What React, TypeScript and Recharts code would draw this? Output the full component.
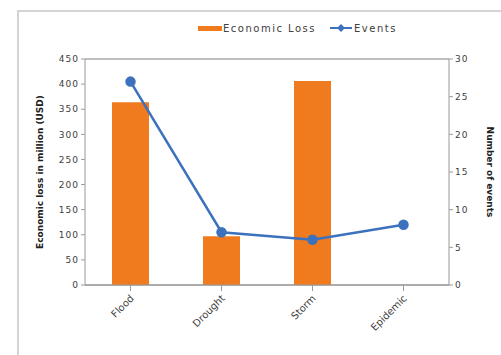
import { ComposedChart, Bar, Line, XAxis, YAxis, CartesianGrid, Legend } from 'recharts';

const categories = ['Flood', 'Drought', 'Storm', 'Epidemic'];
const economicLoss = [364, 97, 406, 0];
const events = [27, 7, 6, 8];
const lossTicks = [0, 50, 100, 150, 200, 250, 300, 350, 400, 450];
const eventTicks = [0, 5, 10, 15, 20, 25, 30];

const data = categories.map((name, i) => ({
  name,
  loss: economicLoss[i],
  events: events[i],
}));

const ORANGE = '#F07A1E';
const BLUE = '#3C72BD';
const AXIS = '#9a9a9a';
const TEXT = '#404040';

const tickStyle = { fontSize: 9, fill: TEXT, fontFamily: 'DejaVu Sans', letterSpacing: 1 };

function RotatedTick(props: any) {
  const { x, y, payload } = props;
  return (
    <g transform={`translate(${x + 4},${y + 6})`}>
      <text textAnchor="end" transform="rotate(-45)" fontSize={10} fill={TEXT} fontFamily="DejaVu Sans">
        {payload.value}
      </text>
    </g>
  );
}

// Excel-style legend: thick short bar for the column series, line + diamond for the line series
function ChartLegend() {
  return (
    <div style={{ display: 'flex', alignItems: 'center', fontSize: 10, letterSpacing: 1.5, fontFamily: 'DejaVu Sans', color: TEXT, height: 14 }}>
      <svg width={24} height={10}>
        <rect x={0} y={3} width={24} height={5} fill={ORANGE} />
      </svg>
      <span style={{ marginLeft: 1, marginRight: 14 }}>Economic Loss</span>
      <svg width={22} height={10}>
        <line x1={0} y1={5} x2={22} y2={5} stroke={BLUE} strokeWidth={2} />
        <path d="M11 1 L15 5 L11 9 L7 5 Z" fill={BLUE} />
      </svg>
      <span style={{ marginLeft: 2 }}>Events</span>
    </div>
  );
}

export default function App() {
  return (
    <div style={{ position: 'absolute', left: 0, top: 0, width: 501, height: 355, background: '#fff', overflow: 'hidden' }}>
      <div
        style={{
          position: 'absolute',
          left: 17,
          top: 10,
          width: 500,
          height: 360,
          border: '2px solid #d4d4d4',
          boxSizing: 'border-box',
        }}
      />
      <div style={{ position: 'absolute', left: 0, top: 0 }}>
        <ComposedChart width={501} height={355} data={data} margin={{ top: 45, right: 7, bottom: 0, left: 38 }}>
          <CartesianGrid vertical={false} stroke="#a8a8a8" strokeWidth={1.5} />
          <XAxis
            dataKey="name"
            height={70}
            tick={<RotatedTick />}
            stroke={AXIS}
            tickLine={{ stroke: AXIS }}
            interval={0}
          />
          <YAxis
            yAxisId="left"
            width={47}
            domain={[0, 450]}
            ticks={lossTicks}
            tick={tickStyle}
            stroke={AXIS}
            tickSize={4}
            label={{
              value: 'Economic loss in million (USD)',
              angle: -90,
              position: 'insideLeft',
              offset: 2,
              style: { textAnchor: 'middle', fontSize: 9, fontWeight: 'bold', fill: '#202020', fontFamily: 'DejaVu Sans' },
            }}
          />
          <YAxis
            yAxisId="right"
            orientation="right"
            width={45}
            domain={[0, 30]}
            ticks={eventTicks}
            tick={tickStyle}
            stroke={AXIS}
            tickSize={4}
            label={{
              value: 'Number of events',
              angle: 90,
              position: 'insideRight',
              offset: 4,
              style: { textAnchor: 'middle', fontSize: 9, fontWeight: 'bold', fill: '#202020', fontFamily: 'DejaVu Sans' },
            }}
          />
          <Legend
            verticalAlign="top"
            content={<ChartLegend />}
            wrapperStyle={{ top: 21, left: 198, width: 240 }}
          />
          <Bar yAxisId="left" dataKey="loss" name="Economic Loss" fill={ORANGE} barSize={37} isAnimationActive={false} />
          <Line
            yAxisId="right"
            dataKey="events"
            name="Events"
            stroke={BLUE}
            strokeWidth={2.5}
            dot={{ r: 4, fill: BLUE, stroke: BLUE }}
            isAnimationActive={false}
          />
        </ComposedChart>
      </div>
    </div>
  );
}
